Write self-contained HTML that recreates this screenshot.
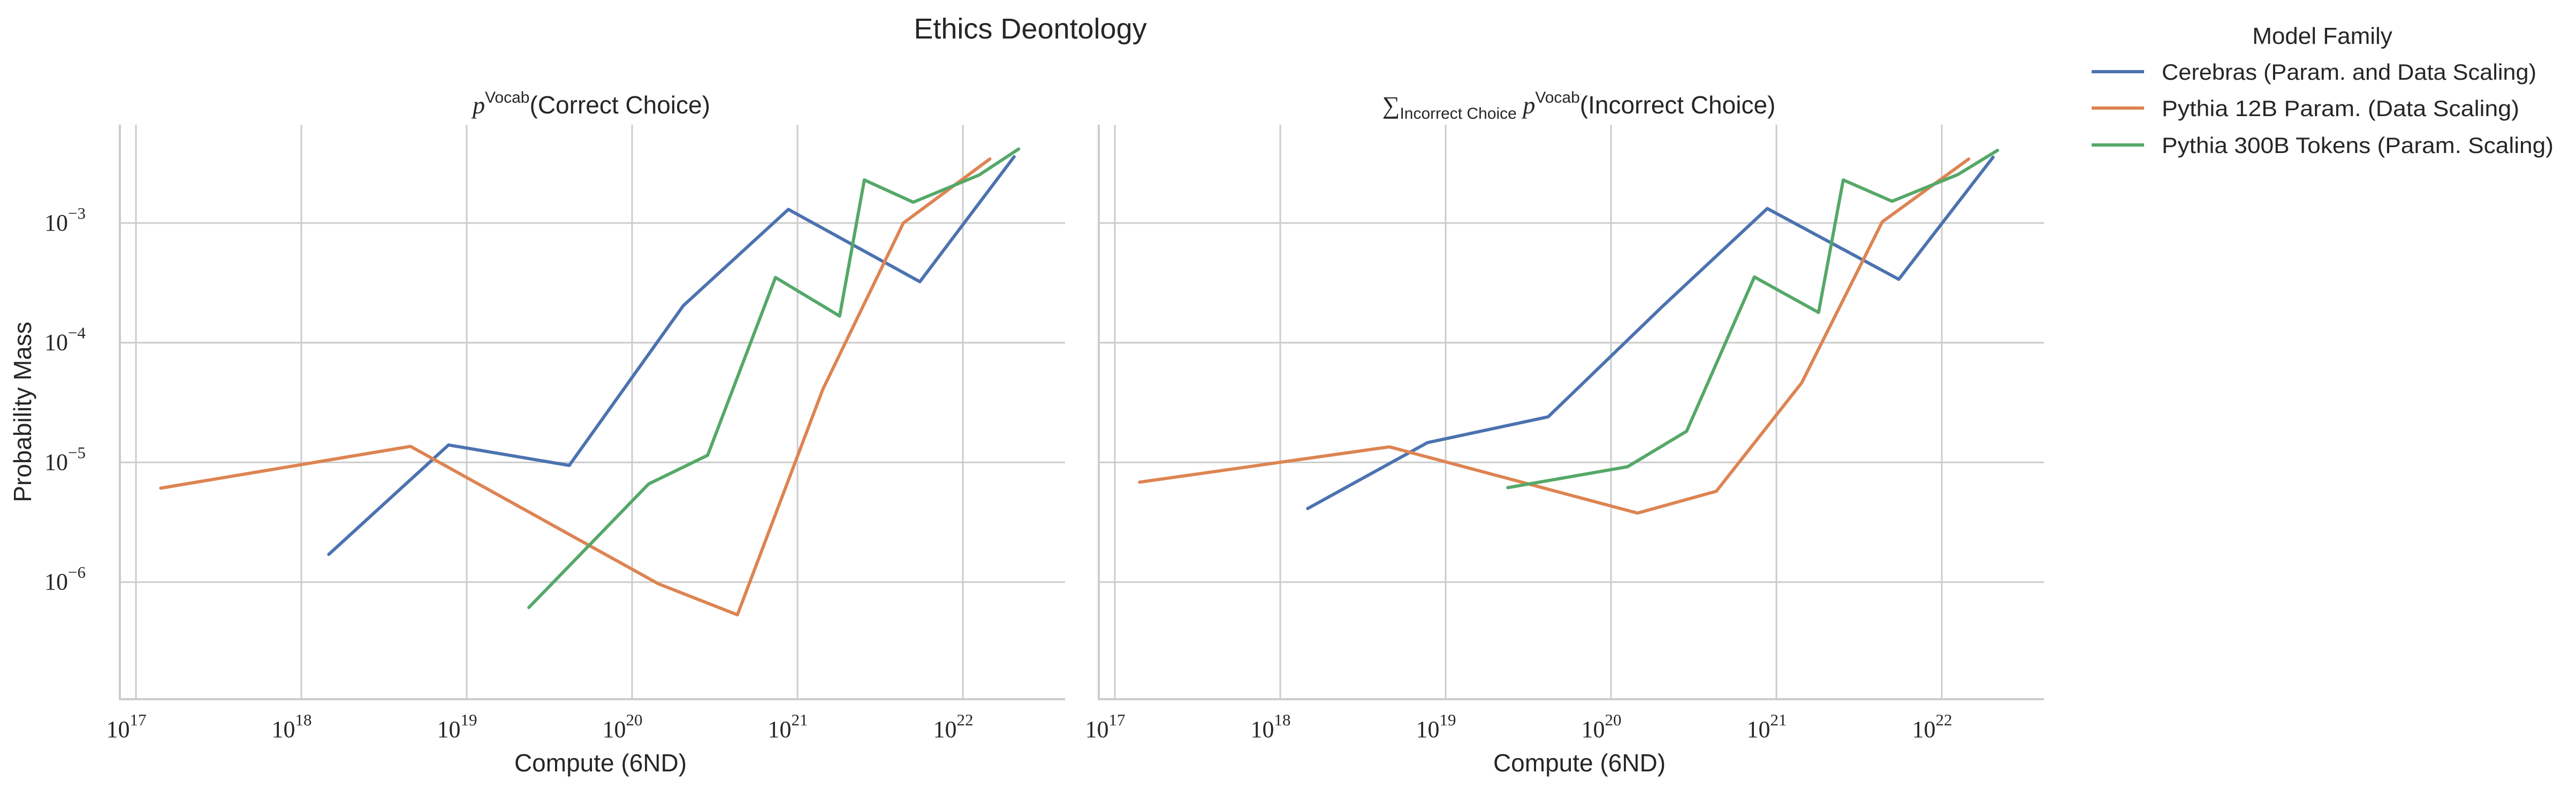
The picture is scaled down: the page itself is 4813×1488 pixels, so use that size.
<!DOCTYPE html>
<html><head><meta charset="utf-8"><style>
html,body{margin:0;padding:0;background:#fff;}
svg text{fill:#262626;}
.t{font-family:"Liberation Sans",sans-serif;}
.m{font-family:"Liberation Serif",serif;}
</style></head><body>
<svg id="chart" width="4813" height="1483" viewBox="0 0 4813 1483" xmlns="http://www.w3.org/2000/svg">
<text class="t" x="1925" y="72" font-size="54" text-anchor="middle">Ethics Deontology</text>
<g id="legend">
<text class="t" x="4339" y="82" font-size="44" text-anchor="middle">Model Family</text>
<line x1="3908" y1="134" x2="4006" y2="134" stroke="#4c72b0" stroke-width="6"/>
<text class="t" x="4039" y="149" font-size="42" textLength="700" lengthAdjust="spacingAndGlyphs">Cerebras (Param. and Data Scaling)</text>
<line x1="3908" y1="202" x2="4006" y2="202" stroke="#dd8452" stroke-width="6"/>
<text class="t" x="4039" y="217" font-size="42" textLength="668" lengthAdjust="spacingAndGlyphs">Pythia 12B Param. (Data Scaling)</text>
<line x1="3908" y1="271" x2="4006" y2="271" stroke="#55a868" stroke-width="6"/>
<text class="t" x="4039" y="286" font-size="42" textLength="732" lengthAdjust="spacingAndGlyphs">Pythia 300B Tokens (Param. Scaling)</text>
</g>
</svg>
<script>
// log10 values
const seriesNames = ["Cerebras (Param. and Data Scaling)", "Pythia 12B Param. (Data Scaling)", "Pythia 300B Tokens (Param. Scaling)"];
const seriesColors = ["#4c72b0", "#dd8452", "#55a868"];
const xTicks = [17, 18, 19, 20, 21, 22];
const yTicks = [-3, -4, -5, -6];
const cerebrasX = [18.166, 18.89, 19.62, 20.31, 20.945, 21.74, 22.31];
const cerebrasCorrectY = [-5.768, -4.854, -5.025, -3.69, -2.886, -3.49, -2.446];
const cerebrasIncorrectY = [-5.385, -4.835, -4.619, -3.698, -2.879, -3.47, -2.45];
const pythia12X = [17.15, 18.66, 20.16, 20.637, 21.153, 21.64, 22.163];
const pythia12CorrectY = [-5.215, -4.866, -6.015, -6.273, -4.39, -3.0, -2.465];
const pythia12IncorrectY = [-5.165, -4.87, -5.423, -5.241, -4.335, -2.99, -2.465];
const pythia300X = [19.376, 20.1, 20.457, 20.867, 21.255, 21.404, 21.7, 22.097, 22.337];
const pythia300CorrectY = [-6.212, -5.18, -4.94, -3.455, -3.777, -2.64, -2.826, -2.6, -2.382];
const pythia300IncorrectY = [-5.211, -5.036, -4.74, -3.451, -3.747, -2.64, -2.818, -2.595, -2.393];

const NS = "http://www.w3.org/2000/svg";
const svg = document.getElementById("chart");
const X0 = 16.903, X1 = 22.618, Y0 = -6.978, Y1 = -2.178;
const panels = [
  {left: 224, name: "correct", ys: [cerebrasCorrectY, pythia12CorrectY, pythia300CorrectY], labels: true},
  {left: 2053, name: "incorrect", ys: [cerebrasIncorrectY, pythia12IncorrectY, pythia300IncorrectY], labels: false}
];
const W = 1766, TOP = 233, BOT = 1307;
const xsAll = [cerebrasX, pythia12X, pythia300X];
function mk(tag, attrs, parent) {
  const e = document.createElementNS(NS, tag);
  for (const k in attrs) e.setAttribute(k, attrs[k]);
  parent.appendChild(e);
  return e;
}
panels.forEach(function (p) {
  const g = mk("g", {}, svg);
  
  
  const sx = v => p.left + (v - X0) / (X1 - X0) * W;
  const sy = v => BOT - (v - Y0) / (Y1 - Y0) * (BOT - TOP);
  xTicks.forEach(function (t) {
    const l = mk("line", {x1: sx(t), x2: sx(t), y1: TOP, y2: BOT, stroke: "#cccccc", "stroke-width": 3}, g);
    
    
    const tx = mk("text", {x: sx(t) - 18, y: 1378, "font-size": 44, "text-anchor": "middle", class: "m"}, g);
    
    
    tx.textContent = "10";
    const sp = mk("tspan", {dy: -22, "font-size": 31}, tx);
    sp.textContent = String(t);
  });
  yTicks.forEach(function (t) {
    const l = mk("line", {x1: p.left, x2: p.left + W, y1: sy(t), y2: sy(t), stroke: "#cccccc", "stroke-width": 3}, g);
    
    
    if (p.labels) {
      const tx = mk("text", {x: 83, y: sy(t) + 14, "font-size": 44, class: "m"}, g);
      
      
      tx.textContent = "10";
      const sp = mk("tspan", {dy: -22, "font-size": 31}, tx);
      sp.textContent = "\u2212" + String(-t);
    }
  });
  const sl = mk("line", {x1: p.left, x2: p.left, y1: TOP, y2: BOT, stroke: "#cccccc", "stroke-width": 4}, g);
  
  
  const sb = mk("line", {x1: p.left - 2, x2: p.left + W, y1: BOT, y2: BOT, stroke: "#cccccc", "stroke-width": 4}, g);
  
  
  const xl = mk("text", {x: p.left + W / 2 + 15, y: 1442, "font-size": 46, "text-anchor": "middle", class: "t"}, g);
  
  
  xl.textContent = "Compute (6ND)";
  p.ys.forEach(function (ys, i) {
    const pts = xsAll[i].map((x, j) => sx(x).toFixed(1) + "," + sy(ys[j]).toFixed(1)).join(" ");
    const pl = mk("polyline", {points: pts, fill: "none", stroke: seriesColors[i], "stroke-width": 6, "stroke-linejoin": "round", "stroke-linecap": "round"}, g);
    
    
  });
});
// panel titles
const t1 = mk("text", {x: 1105, y: 212, "font-size": 46, "text-anchor": "middle", class: "t"}, svg);


t1.innerHTML = '<tspan class="m" font-style="italic">p</tspan><tspan font-size="30" dy="-20">Vocab</tspan><tspan dy="20">(Correct Choice)</tspan>';
const t2 = mk("text", {x: 2950, y: 212, "font-size": 46, "text-anchor": "middle", class: "t"}, svg);


t2.innerHTML = '<tspan class="m">\u2211</tspan><tspan font-size="30" dy="10">Incorrect Choice</tspan><tspan class="m" font-style="italic" dy="-10"> p</tspan><tspan font-size="30" dy="-20">Vocab</tspan><tspan dy="20">(Incorrect Choice)</tspan>';
const yl = mk("text", {x: 58, y: 770, "font-size": 46, "text-anchor": "middle", class: "t", transform: "rotate(-90 58 770)"}, svg);


yl.textContent = "Probability Mass";
</script>
</body></html>
